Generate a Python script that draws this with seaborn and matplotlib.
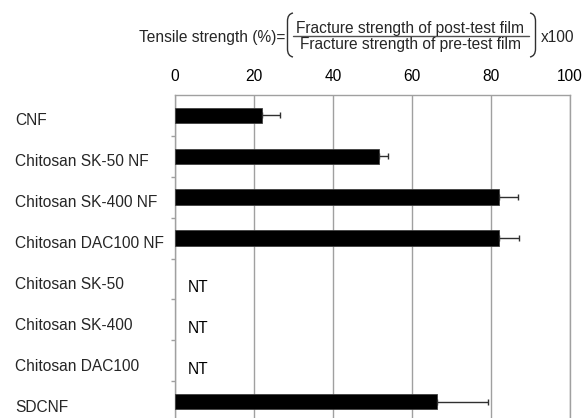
import numpy as np
import pandas as pd

import matplotlib

matplotlib.use('Agg')
import matplotlib.pyplot as plt
import matplotlib.transforms as mtransforms
from matplotlib.path import Path
from matplotlib.patches import PathPatch
import seaborn as sns

# ==========================================
# data
# ==========================================
categories = ['CNF', 'Chitosan SK-50 NF', 'Chitosan SK-400 NF', 'Chitosan DAC100 NF',
              'Chitosan SK-50', 'Chitosan SK-400', 'Chitosan DAC100', 'SDCNF']
strength = [22.0, 51.6, 82.1, 82.0, np.nan, np.nan, np.nan, 66.3]
strength_err = [4.6, 2.4, 4.8, 5.2, 0, 0, 0, 13.0]
not_tested = ['Chitosan SK-50', 'Chitosan SK-400', 'Chitosan DAC100']
x_ticks = [0, 20, 40, 60, 80, 100]

df = pd.DataFrame({'Sample': categories, 'Strength': strength, 'Err': strength_err})

# ==========================================
# style
# ==========================================
sns.set_theme(style="white")
plt.rcParams['font.family'] = ['Liberation Sans', 'DejaVu Sans']
FS = 11.2
GRID = '#a0a0a0'

W, H = 584, 418
fig = plt.figure(figsize=(W / 100, H / 100), dpi=100)
ax_left, ax_right, ax_top, ax_bottom = 175, 570, 95, 422
ax = fig.add_axes([ax_left / W, 1 - ax_bottom / H, (ax_right - ax_left) / W, (ax_bottom - ax_top) / H])

sns.barplot(data=df, x='Strength', y='Sample', orient='h', color='black',
            saturation=1, width=0.38, errorbar=None, edgecolor='#404040', linewidth=0.6,
            ax=ax, zorder=3)

ypos = np.arange(len(categories))
has_val = ~np.isnan(np.array(strength))
ax.errorbar(np.array(strength)[has_val], ypos[has_val],
            xerr=[np.zeros(has_val.sum()), np.array(strength_err)[has_val]],
            fmt='none', ecolor='#303030', elinewidth=1.0, capsize=2.2, capthick=1.0, zorder=4)

for name in not_tested:
    i = categories.index(name)
    ax.text(3.3, i + 0.22, 'NT', fontsize=FS, va='center', ha='left', color='black')

ax.set_xlim(0, 100)
ax.set_ylim(len(categories) - 0.5, -0.5)
ax.set_xticks(x_ticks)
ax.xaxis.tick_top()
ax.tick_params(axis='x', length=0, pad=8, labelsize=FS, colors='black')
ax.xaxis.grid(True, color=GRID, linewidth=1.0, zorder=0)
ax.set_axisbelow(True)

ax.set_yticks(ypos)
ax.set_yticklabels(categories)
ax.set_yticks(np.arange(0.5, len(categories) - 0.5, 1), minor=True)
ax.tick_params(axis='y', which='major', length=0, pad=(ax_left - 15) * 0.72, labelsize=FS)
ax.tick_params(axis='y', which='minor', length=3, width=1.0, color=GRID, direction='out', left=True)
offset = mtransforms.ScaledTranslation(0, -4 / 100, fig.dpi_scale_trans)
for lab in ax.get_yticklabels():
    lab.set_horizontalalignment('left')
    lab.set_transform(lab.get_transform() + offset)

ax.set_xlabel('')
ax.set_ylabel('')
for side in ['left', 'top', 'right']:
    ax.spines[side].set_color(GRID)
    ax.spines[side].set_linewidth(1.0)
ax.spines['bottom'].set_visible(False)

# ==========================================
# formula header
# ==========================================
def fx(px):
    return px / W


def fy(py):
    return 1 - py / H


fig.text(fx(285), fy(42), 'Tensile strength (%)=', fontsize=FS, ha='right', va='baseline')
fig.text(fx(410), fy(33), 'Fracture strength of post-test film', fontsize=FS, ha='center', va='baseline')
fig.text(fx(410), fy(49.5), 'Fracture strength of pre-test film', fontsize=FS, ha='center', va='baseline')
fig.text(fx(541), fy(42), 'x100', fontsize=FS, ha='left', va='baseline')
fig.add_artist(plt.Line2D([fx(293), fx(529)], [fy(36), fy(36)], color='#505050', linewidth=1.0,
                          transform=fig.transFigure))

for x0, x1 in [(293, 287.5), (530, 535.5)]:
    verts = [(fx(x0), fy(13)), (fx(x1), fy(14)), (fx(x1), fy(21)),
             (fx(x1), fy(49)),
             (fx(x1), fy(56)), (fx(x0), fy(57))]
    codes = [Path.MOVETO, Path.CURVE3, Path.CURVE3, Path.LINETO, Path.CURVE3, Path.CURVE3]
    fig.add_artist(PathPatch(Path(verts, codes), facecolor='none', edgecolor='#303030',
                             linewidth=1.0, transform=fig.transFigure))

plt.savefig('out.png', dpi=100)
plt.close()
